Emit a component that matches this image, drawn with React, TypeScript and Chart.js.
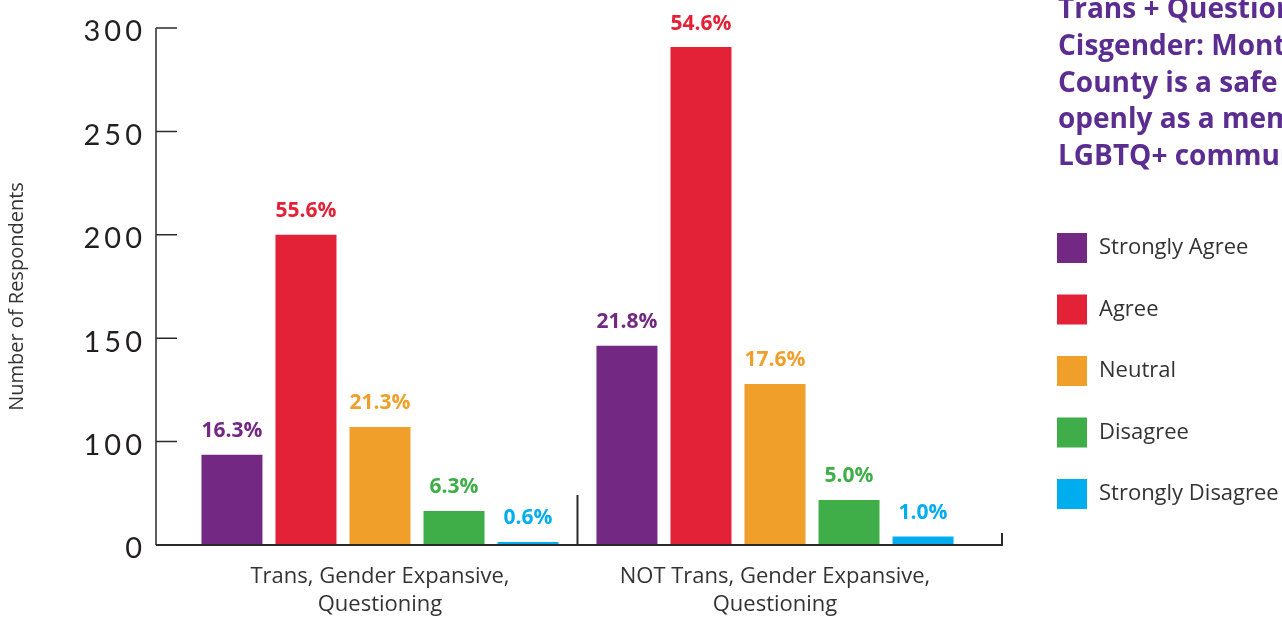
import React, { useEffect, useRef } from "react";
import { Chart, registerables } from "chart.js";

Chart.register(...registerables);

// ---------- data ----------
const categories = [
  ["Trans, Gender Expansive,", "Questioning"],
  ["NOT Trans, Gender Expansive,", "Questioning"],
];
const seriesNames = ["Strongly Agree", "Agree", "Neutral", "Disagree", "Strongly Disagree"];
const stronglyAgree = [93.6, 146.3];
const agree = [200, 290.8];
const neutral = [107.1, 127.9];
const disagree = [66.5, 71.8];
const stronglyDisagree = [51.5, 54.1];
const stronglyAgreePct = ["16.3%", "21.8%"];
const agreePct = ["55.6%", "54.6%"];
const neutralPct = ["21.3%", "17.6%"];
const disagreePct = ["6.3%", "5.0%"];
const stronglyDisagreePct = ["0.6%", "1.0%"];
const yTickValues = [50, 100, 150, 200, 250, 300];
const yTickLabels = ["0", "100", "150", "200", "250", "300"];
const yAxisTitle = "Number of Respondents";
const titleLines = [
  "Trans + Questioning vs.",
  "Cisgender: Montgomery",
  "County is a safe place to live",
  "openly as a member of the",
  "LGBTQ+ community",
];

// ---------- styles ----------
const colors = ["#732983", "#e32137", "#f0a02a", "#3fae49", "#00aeef"];
const TITLE_COLOR = "#5c2d90";
const TEXT_COLOR = "#333333";
const AXIS_COLOR = "#2b2b2b";
const FONT = "'Open Sans', sans-serif";
const W = 1282;
const H = 617;

const seriesValues = [stronglyAgree, agree, neutral, disagree, stronglyDisagree];
const seriesPct = [stronglyAgreePct, agreePct, neutralPct, disagreePct, stronglyDisagreePct];

const decorPlugin = {
  id: "decor",
  afterDatasetsDraw(chart: any) {
    const { ctx } = chart;
    ctx.save();
    ctx.font = `700 21px ${FONT}`;
    ctx.textAlign = "center";
    ctx.textBaseline = "alphabetic";
    chart.data.datasets.forEach((ds: any, i: number) => {
      const meta = chart.getDatasetMeta(i);
      meta.data.forEach((bar: any, j: number) => {
        ctx.fillStyle = colors[i];
        ctx.fillText(seriesPct[i][j], bar.x, bar.y - 17.5);
      });
    });
    ctx.restore();
  },
  afterDraw(chart: any) {
    const { ctx, chartArea, scales } = chart;
    const y = scales.y;
    const x = scales.x;
    const axisX = chartArea.left - 26.5;
    const axisRight = chartArea.right + 29.5;
    const bottom = y.getPixelForValue(yTickValues[0]);
    const top = y.getPixelForValue(yTickValues[yTickValues.length - 1]);
    ctx.save();
    ctx.strokeStyle = AXIS_COLOR;
    ctx.lineWidth = 1.5;
    ctx.beginPath();
    ctx.moveTo(axisX, top);
    ctx.lineTo(axisX, bottom);
    yTickValues.forEach((v) => {
      const py = y.getPixelForValue(v);
      ctx.moveTo(axisX, py);
      ctx.lineTo(axisX + 21, py);
    });
    ctx.stroke();
    ctx.lineWidth = 2;
    ctx.beginPath();
    ctx.moveTo(axisX, bottom);
    ctx.lineTo(axisRight, bottom);
    ctx.moveTo(axisRight, bottom + 1);
    ctx.lineTo(axisRight, bottom - 12);
    const sep = (x.getPixelForValue(0) + x.getPixelForValue(1)) / 2;
    ctx.moveTo(sep, bottom);
    ctx.lineTo(sep, bottom - 50);
    ctx.stroke();

    // y tick labels
    ctx.fillStyle = "#231f20";
    ctx.font = `400 29px Lato, sans-serif`;
    (ctx as any).letterSpacing = "4px";
    ctx.textAlign = "right";
    ctx.textBaseline = "middle";
    yTickValues.forEach((v, i) => {
      ctx.fillText(yTickLabels[i], axisX - 10, y.getPixelForValue(v) + 4);
    });
    (ctx as any).letterSpacing = "0px";

    // y-axis title
    ctx.save();
    ctx.translate(17, (top + bottom) / 2 + 10);
    ctx.rotate(-Math.PI / 2);
    ctx.fillStyle = TEXT_COLOR;
    ctx.font = `400 20px ${FONT}`;
    ctx.textAlign = "center";
    ctx.textBaseline = "middle";
    ctx.fillText(yAxisTitle, 0, 0);
    ctx.restore();

    // title
    ctx.fillStyle = TITLE_COLOR;
    ctx.font = `700 28px ${FONT}`;
    ctx.textAlign = "left";
    ctx.textBaseline = "alphabetic";
    titleLines.forEach((line, i) => {
      ctx.fillText(line, 1058, 18 + i * 36.8);
    });

    // legend
    ctx.font = `400 22px ${FONT}`;
    ctx.textBaseline = "middle";
    seriesNames.forEach((name, i) => {
      const ly = 233 + i * 61.5;
      ctx.fillStyle = colors[i];
      ctx.fillRect(1057, ly, 30, 30);
      ctx.fillStyle = TEXT_COLOR;
      ctx.fillText(name, 1099, ly + 15);
    });
    ctx.restore();
  },
};

export default function App() {
  const ref = useRef<HTMLCanvasElement | null>(null);
  useEffect(() => {
    document.body.style.margin = "0";
    const canvas = ref.current;
    if (!canvas) return;
    const chart = new Chart(canvas, {
      type: "bar",
      data: {
        labels: categories as any,
        datasets: seriesNames.map((name, i) => ({
          label: name,
          data: seriesValues[i],
          backgroundColor: colors[i],
          borderWidth: 0,
          categoryPercentage: 0.937,
          barPercentage: 0.824,
        })),
      },
      options: {
        responsive: false,
        animation: false,
        devicePixelRatio: 1,
        layout: { padding: { left: 0, right: W - 972.5, top: 28, bottom: 0 } },
        plugins: {
          legend: { display: false },
          tooltip: { enabled: false },
          title: { display: false },
        },
        scales: {
          x: {
            type: "category",
            grid: { display: false, drawTicks: false },
            border: { display: false },
            ticks: {
              color: TEXT_COLOR,
              font: { family: FONT, size: 22, lineHeight: 1.27 },
              padding: 18,
              maxRotation: 0,
              autoSkip: false,
            },
            afterFit: (s: any) => {
              s.height = 72;
              s.paddingLeft = 0;
              s.paddingRight = 0;
            },
          },
          y: {
            type: "linear",
            min: yTickValues[0],
            max: yTickValues[yTickValues.length - 1],
            grid: { display: false, drawTicks: false },
            border: { display: false },
            afterBuildTicks: (s: any) => {
              s.ticks = yTickValues.map((v) => ({ value: v }));
            },
            ticks: { display: false },
            afterFit: (s: any) => {
              s.width = 182.5;
              s.paddingTop = 0;
              s.paddingBottom = 0;
            },
          },
        },
      },
      plugins: [decorPlugin],
    });
    return () => chart.destroy();
  }, []);
  return (
    <div style={{ width: W, height: H, overflow: "hidden", background: "#fff" }}>
      <canvas ref={ref} width={W} height={H} style={{ display: "block" }} />
    </div>
  );
}
